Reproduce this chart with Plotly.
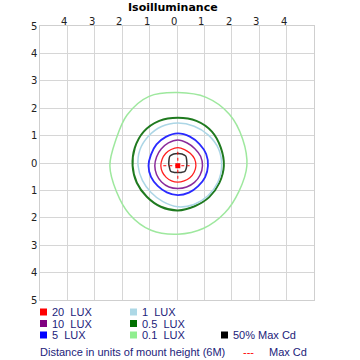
import numpy as np
import plotly.graph_objects as go

# ---- data ----
angles_deg = [0, 22.5, 45, 67.5, 90, 112.5, 135, 157.5, 180, 202.5, 225, 247.5, 270, 292.5, 315, 337.5]
center_x = 0.03
center_y = -0.1
sq_center_y = -0.04

r_01 = [2.52, 2.56, 2.66, 2.70, 2.67, 2.74, 2.62, 2.45, 2.48, 2.43, 2.50, 2.55, 2.50, 2.47, 2.43, 2.42]
r_05 = [1.68, 1.70, 1.76, 1.77, 1.75, 1.77, 1.76, 1.70, 1.65, 1.62, 1.60, 1.62, 1.63, 1.60, 1.62, 1.64]
r_1 = [1.60, 1.61, 1.58, 1.56, 1.56, 1.55, 1.52, 1.50, 1.45, 1.40, 1.38, 1.42, 1.50, 1.53, 1.55, 1.58]
r_5 = [1.10, 1.12, 1.12, 1.15, 1.18, 1.14, 1.10, 1.06, 1.07, 1.06, 1.04, 1.05, 1.07, 1.06, 1.05, 1.08]
r_10 = [0.90, 0.90, 0.88, 0.90, 0.94, 0.90, 0.86, 0.84, 0.84, 0.84, 0.84, 0.84, 0.83, 0.84, 0.86, 0.88]
r_20 = [0.66, 0.66, 0.64, 0.64, 0.66, 0.64, 0.63, 0.62, 0.62, 0.61, 0.60, 0.60, 0.60, 0.60, 0.62, 0.64]
r_half = [0.33, 0.35, 0.41, 0.40, 0.39, 0.40, 0.41, 0.35, 0.33, 0.33, 0.37, 0.33, 0.31, 0.33, 0.37, 0.34]

maxcd_x = [-0.5, 0.46]
maxcd_y = [0.41, -0.62]

x_tickvals = [-4, -3, -2, -1, 0, 1, 2, 3, 4]
x_ticktext = ["4", "3", "2", "1", "0", "1", "2", "3", "4"]
y_tickvals = [5, 4, 3, 2, 1, 0, -1, -2, -3, -4, -5]
y_ticktext = ["5", "4", "3", "2", "1", "0", "1", "2", "3", "4", "5"]

legend_names = ["20  LUX", "10  LUX", "5  LUX", "1  LUX", "0.5  LUX", "0.1  LUX", "50% Max Cd"]
legend_colors = ["#ff0000", "#800080", "#0000ff", "#add8e6", "#007000", "#90ee90", "#000000"]

# ---- figure ----
fig = go.Figure()

def contour(r, color, width, cy=center_y):
    th = np.deg2rad(np.array(angles_deg + [angles_deg[0]]))
    rr = np.array(r + [r[0]])
    fig.add_trace(go.Scatter(
        x=center_x + rr * np.cos(th), y=cy + rr * np.sin(th),
        mode="lines", line=dict(color=color, width=width, shape="spline", smoothing=1.0),
        hoverinfo="skip", showlegend=False))

contour(r_01, "#9ee89e", 1.5)
contour(r_05, "#1f7a1f", 2)
contour(r_1, "#acd6e6", 1.5)
contour(r_5, "#2a2aff", 1.8)
contour(r_10, "#8a2a9a", 1.5)
contour(r_20, "#ff2020", 1.3)
contour(r_half, "#333333", 1.5, cy=sq_center_y)

fig.add_trace(go.Scatter(x=maxcd_x, y=[center_y, center_y], mode="lines",
                         line=dict(color="#ff0000", width=1, dash="3px,3px"), hoverinfo="skip", showlegend=False))
fig.add_trace(go.Scatter(x=[center_x, center_x], y=maxcd_y, mode="lines",
                         line=dict(color="#ff0000", width=1, dash="3px,3px"), hoverinfo="skip", showlegend=False))
fig.add_trace(go.Scatter(x=[center_x], y=[center_y], mode="markers",
                         marker=dict(symbol="square", size=5, color="#ff0000"), hoverinfo="skip", showlegend=False))

PL, PR, PT, PB = 40, 314, 26, 300
W = PR - PL
H = PB - PT

def px2paper(px, py):
    return (px - PL) / W, (PB - py) / H

text_color = "#22227a"
font_family = "Liberation Sans"
tick_font = dict(family="DejaVu Sans", size=10, color="#222222")
annotations = []
shapes = []

# axis tick labels (x on top, y on left)
_, ty_top = px2paper(0, 21)
for v, t in zip(x_tickvals, x_ticktext):
    annotations.append(dict(text=t, xref="x", yref="paper", x=v, y=ty_top, xanchor="center", yanchor="middle",
                            xshift=-3, showarrow=False, font=tick_font))
tx_left, _ = px2paper(34, 0)
for v, t in zip(y_tickvals, y_ticktext):
    annotations.append(dict(text=t, xref="paper", yref="y", x=tx_left, y=v, xanchor="center", yanchor="middle",
                            showarrow=False, font=tick_font))

positions = [(40, 312), (40, 323.5), (40, 335), (130, 312), (130, 323.5), (130, 335), (221, 335)]
for name, col, (px, py) in zip(legend_names, legend_colors, positions):
    x0, y0 = px2paper(px, py - 3.5)
    x1, y1 = px2paper(px + 7, py + 3.5)
    shapes.append(dict(type="rect", xref="paper", yref="paper", x0=x0, x1=x1, y0=y1, y1=y0,
                       fillcolor=col, line=dict(width=0)))
    tx, ty = px2paper(px + 10, py)
    annotations.append(dict(text=name, xref="paper", yref="paper", x=tx, y=ty, xanchor="left", yanchor="middle",
                            showarrow=False, font=dict(family=font_family, size=11, color=text_color)))

tx, ty = px2paper(38, 352)
annotations.append(dict(text="Distance in units of mount height (6M)", xref="paper", yref="paper", x=tx, y=ty,
                        xanchor="left", yanchor="middle", showarrow=False,
                        font=dict(family=font_family, size=11, color=text_color)))
tx, ty = px2paper(241, 352)
annotations.append(dict(text="---", xref="paper", yref="paper", x=tx, y=ty,
                        xanchor="left", yanchor="middle", showarrow=False,
                        font=dict(family=font_family, size=11, color="#ff0000")))
tx, ty = px2paper(267, 352)
annotations.append(dict(text="Max Cd", xref="paper", yref="paper", x=tx, y=ty,
                        xanchor="left", yanchor="middle", showarrow=False,
                        font=dict(family=font_family, size=11, color=text_color)))
tx, ty = px2paper(173, 7)
annotations.append(dict(text="<b>Isoilluminance</b>", xref="paper", yref="paper", x=tx, y=ty,
                        xanchor="center", yanchor="middle", showarrow=False,
                        font=dict(family="DejaVu Sans", size=11, color="#000000")))

fig.update_layout(
    width=360, height=360,
    margin=dict(l=PL, r=360 - PR, t=PT, b=360 - PB, autoexpand=False),
    paper_bgcolor="white", plot_bgcolor="white",
    showlegend=False,
    annotations=annotations, shapes=shapes,
    xaxis=dict(range=[-5, 5], tickmode="linear", tick0=0, dtick=1, showticklabels=False,
               showgrid=True, gridcolor="#d6d6d6", gridwidth=1, zeroline=False, automargin=False,
               showline=True, linecolor="#cfcfcf", mirror=True, ticks="", fixedrange=True),
    yaxis=dict(range=[-5, 5], tickmode="linear", tick0=0, dtick=1, showticklabels=False,
               showgrid=True, gridcolor="#d6d6d6", gridwidth=1, zeroline=False, automargin=False,
               showline=True, linecolor="#cfcfcf", mirror=True, ticks="", fixedrange=True),
)

fig.write_html("out.html", config={"displayModeBar": False},
               post_script="document.body.style.margin='0';document.body.style.overflow='hidden';")
